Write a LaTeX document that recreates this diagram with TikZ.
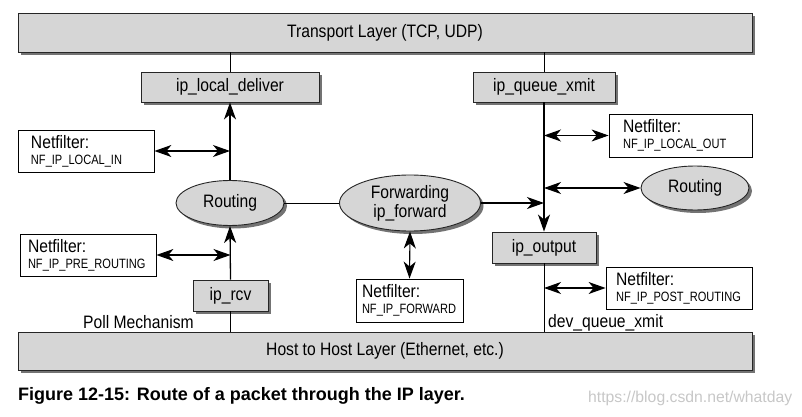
\documentclass[tikz,border=0pt]{standalone}
\usepackage{fontspec}
\setmainfont{Liberation Sans}
\newfontfamily\narrowfont[FakeStretch=0.87]{Liberation Sans}
\newfontfamily\nfnarrowfont[FakeStretch=0.82]{Liberation Sans}
\newcommand\nfnamefont{\nfnarrowfont\fontsize{13.5}{16}\selectfont}
\usetikzlibrary{shapes.geometric, shadows, arrows.meta}

\begin{document}
\begin{tikzpicture}[x=1pt, y=-1pt,
    grayshadow/.style={drop shadow={shadow xshift=3pt, shadow yshift=-3pt, fill=black!55, opacity=1}},
    layerbox/.style={rectangle, draw=black!85, fill=black!16, line width=0.9pt, minimum width=734pt, minimum height=38pt, grayshadow},
    funcbox/.style={rectangle, draw=black!85, fill=black!16, line width=0.9pt, minimum height=30pt, inner sep=0pt, grayshadow},
    routebox/.style={ellipse, draw=black!85, fill=black!16, line width=0.9pt, inner sep=0pt, grayshadow},
    nfbox/.style={rectangle, draw, fill=white, line width=0.8pt, align=left, inner xsep=0pt, inner ysep=0pt, minimum height=42pt, text width=#1, font=\narrowfont\fontsize{18}{16}\selectfont},
    flow/.style={-{Stealth[length=17pt, width=12pt, inset=5pt]}, line width=1.3pt},
    hook/.style={{Stealth[length=17pt, width=12pt, inset=5pt]}-{Stealth[length=17pt, width=12pt, inset=5pt]}, line width=1.1pt},
    link/.style={line width=0.9pt},
    font=\narrowfont\fontsize{18}{19}\selectfont]
    \useasboundingbox (0,0) rectangle (802,417);

    % Layers
    \node (transport) [layerbox, minimum height=39pt] at (385,32.5) {Transport Layer (TCP, UDP)};
    \node (host) [layerbox] at (385,351) {Host to Host Layer (Ethernet, etc.)};

    % Functions
    \node (localdeliver) [funcbox, minimum width=178pt] at (230,87) {ip\_local\_deliver};
    \node (queuexmit) [funcbox, minimum width=142pt] at (544,87) {ip\_queue\_xmit};
    \node (output) [funcbox, minimum width=104pt, minimum height=31pt] at (544,247.5) {ip\_output\hspace{8pt}};
    \node (rcv) [funcbox, minimum width=75pt, minimum height=31pt] at (230.5,295.5) {ip\_rcv};

    % Routing
    \node (routingL) [routebox, minimum width=108pt, minimum height=45pt] at (230,203) {Routing};
    \node (forward) [routebox, minimum width=141pt, minimum height=56pt, align=center] at (410,203) {Forwarding\\ip\_forward};
    \node (routingR) [routebox, minimum width=108pt, minimum height=44pt] at (695,188) {Routing};

    % Netfilter hooks (text width = box width, left gap by \hspace)
    \node (nflocalin) [nfbox=136pt] at (86,151) {\hspace*{13pt}Netfilter:\\\hspace*{13pt}{\nfnamefont NF\_IP\_LOCAL\_IN}};
    \node (nfpre) [nfbox=136pt] at (88,255) {\hspace*{8pt}Netfilter:\\\hspace*{8pt}{\nfnamefont NF\_IP\_PRE\_ROUTING}};
    \node (nffwd) [nfbox=107pt, minimum height=43pt] at (409.5,300.5) {\hspace*{6pt}Netfilter:\\\hspace*{6pt}{\nfnamefont NF\_IP\_FORWARD}};
    \node (nfout) [nfbox=143pt, minimum height=43pt] at (680.5,135.5) {\hspace*{14pt}Netfilter:\\\hspace*{14pt}{\nfnamefont NF\_IP\_LOCAL\_OUT}};
    \node (nfpost) [nfbox=146pt] at (679,288) {\hspace*{10pt}Netfilter:\\\hspace*{10pt}{\nfnamefont NF\_IP\_POST\_ROUTING}};

    % Labels
    \node (poll) [anchor=base west, inner sep=0pt] at (83,328) {Poll Mechanism};
    \node (devxmit) [anchor=base west, inner sep=0pt] at (548,327) {dev\_queue\_xmit};

    % Lines
    \draw[link] (localdeliver.north) -- (localdeliver.north |- transport.south);
    \draw[link] (queuexmit.north) -- (queuexmit.north |- transport.south);
    \draw[link] (rcv.south) -- (rcv.south |- host.north);
    \draw[link] (output.south) -- (output.south |- host.north);
    \draw[link] (routingL.east) -- (forward.west);

    % Arrows
    \draw[flow] (rcv.north) -- (routingL.south);
    \draw[flow] (routingL.north) -- (localdeliver.south);
    \draw[flow] (queuexmit.south) -- (output.north);
    \draw[flow] (forward.east) -- (forward.east -| queuexmit.south);

    % Hooks
    \draw[hook] (nflocalin.east) -- (nflocalin.east -| localdeliver.south);
    \draw[hook] (nfpre.east) -- (nfpre.east -| rcv.north);
    \draw[hook] (forward.south) -- (nffwd.north);
    \draw[hook] (nfout.west) -- (nfout.west -| queuexmit.south);
    \draw[hook] (routingR.west) -- (routingR.west -| queuexmit.south);
    \draw[hook] (nfpost.west) -- (nfpost.west -| output.south);

    % Caption
    \node (caption) [anchor=base west, inner sep=0pt, font=\bfseries\fontsize{18}{20}\selectfont] at (18,400) {Figure 12-15: Route of a packet through the IP layer.};
    \node (mark) [anchor=base west, inner sep=0pt, text=black!22, font=\fontsize{15.75}{18}\selectfont] at (588,402) {https://blog.csdn.net/whatday};
\end{tikzpicture}
\end{document}
